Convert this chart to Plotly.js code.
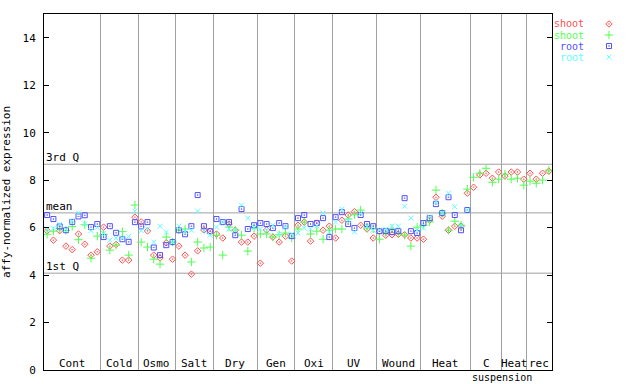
<!DOCTYPE html>
<html>
<head>
<meta charset="utf-8">
<script src="https://cdn.plot.ly/plotly-3.0.1.min.js"></script>
<style>html,body{margin:0;padding:0;background:#fff;}#chart{width:640px;height:384px;}</style>
</head>
<body>
<div id="chart"></div>
<script>
// ---- data ----
const categories = ['Cont','Cold','Osmo','Salt','Dry','Gen','Oxi','UV','Wound','Heat','C','Heat','rec'];
const groupSizes = [9,6,6,6,7,6,6,7,7,8,5,4,4];
const subLabel = 'suspension';
const subLabelAfterGroup = 10; // label placed at boundary after group index 10 ("C")

const shootA = [5.87,5.47,5.87,5.22,5.07,5.73,5.30,4.84,4.98,6.02,
                5.22,5.29,4.63,4.63,6.44,6.24,5.86,4.84,4.72,5.36,
                4.67,5.22,4.84,4.04,5.02,5.90,5.85,5.73,5.56,6.15,
                5.89,5.39,5.39,5.64,4.50,5.90,5.60,5.39,5.64,4.59,
                6.10,6.23,5.43,6.19,5.89,6.06,5.56,6.31,6.53,6.67,
                6.10,5.94,5.56,5.85,5.68,5.70,5.72,5.70,5.56,5.56,
                5.51,6.32,7.28,6.48,5.89,6.06,6.06,7.45,7.70,8.22,
                8.29,8.08,8.34,8.17,8.34,8.34,8.04,8.29,8.04,8.29,8.38];
const shootB = [5.72,5.85,5.95,5.88,6.05,5.49,6.12,4.71,5.64,5.72,
                5.05,5.26,5.83,4.84,6.95,5.39,5.18,4.67,4.46,5.60,
                5.39,5.90,5.94,4.55,5.39,5.14,5.18,5.68,4.84,6.02,
                5.90,5.68,5.01,5.98,5.73,5.73,5.60,5.70,5.77,5.56,
                5.94,6.23,5.73,5.85,5.51,5.89,5.94,5.94,6.36,6.54,
                6.74,5.98,5.95,5.51,5.80,5.95,5.75,5.68,5.22,6.02,
                6.10,6.24,7.58,6.60,5.89,6.27,6.10,7.62,8.12,8.29,
                8.50,7.91,8.04,8.25,8.04,8.08,7.79,7.96,7.87,8.00,8.42];
const rootA = [6.53,6.36,6.05,5.89,6.24,6.47,6.52,6.02,6.15,5.60,
               6.06,5.78,5.51,5.40,6.23,6.05,6.23,5.16,4.84,5.26,
               5.39,5.89,5.72,6.06,7.37,6.06,5.85,6.36,6.23,6.23,
               5.68,6.78,5.94,6.10,6.19,6.15,5.98,6.19,6.06,5.64,
               6.40,6.53,6.15,6.19,6.40,5.60,6.44,6.65,6.15,5.98,
               6.53,6.15,6.06,5.85,5.85,5.81,5.85,7.24,5.85,5.77,
               6.19,6.40,6.99,6.61,7.28,6.53,5.89,6.74];
const rootB = [5.94,5.98,6.14,5.92,6.28,6.62,6.15,5.87,6.01,5.75,
               5.47,5.56,5.56,5.63,6.69,5.87,5.94,5.39,6.06,5.81,
               5.39,6.06,5.85,5.89,6.70,5.85,5.68,6.02,6.23,5.94,
               5.89,6.95,6.40,6.00,5.94,5.89,6.10,5.73,6.03,5.73,
               5.77,5.98,5.94,6.07,6.61,5.81,6.23,6.78,6.30,5.82,
               6.60,6.05,5.89,5.90,5.94,6.06,6.06,6.90,6.40,5.90,
               5.98,6.45,7.07,6.61,7.45,6.88,6.10,6.74];

const q3 = 8.67, meanVal = 6.62, q1 = 4.08;
const yTicks = [0,2,4,6,8,10,12,14];

const seriesNames = ['shoot','shoot','root','root'];
const seriesColors = ['#ff5050','#50ff50','#5050ff','#60ffff'];
const seriesSymbols = ['diamond-open-dot','cross-thin-open','square-open-dot','x-thin-open'];
const seriesSizes = [5,6,5,5];
const seriesData = [shootA, shootB, rootA, rootB];

// ---- build ----
const FONT = 'DejaVu Sans Mono, Liberation Mono, monospace';
const nTotal = groupSizes.reduce((a,b)=>a+b,0);
const boundaries = [];
const centers = [];
let acc = 0;
groupSizes.forEach((n,i)=>{
  centers.push(acc + (n+1)/2);
  acc += n;
  if (i < groupSizes.length-1) boundaries.push(acc + 0.5);
});

const traces = seriesData.map((vals,k)=>({
  type:'scatter', mode:'markers',
  x: vals.map((_,i)=>i+1), y: vals,
  marker:{symbol:seriesSymbols[k], size:seriesSizes[k], color:seriesColors[k], line:{color:seriesColors[k], width:1}},
  name: seriesNames[k], showlegend:false, hoverinfo:'skip'
}));

// legend key markers (on a helper axis in the right margin)
const legendRows = [0.972,0.941,0.910,0.879];
seriesNames.forEach((nm,k)=>{
  traces.push({type:'scatter', mode:'markers', xaxis:'x2', yaxis:'y2',
    x:[0.6], y:[legendRows[k]],
    marker:{symbol:seriesSymbols[k], size:seriesSizes[k], color:seriesColors[k], line:{color:seriesColors[k], width:1}},
    showlegend:false, hoverinfo:'skip'});
});

const annotations = [];
categories.forEach((c,i)=>{
  annotations.push({x:centers[i], xref:'x', y:0, yref:'y domain', yanchor:'bottom', yshift:-2,
    text:c, showarrow:false, font:{family:FONT, size:11, color:'#000'}});
});
annotations.push({x:boundaries[subLabelAfterGroup], xref:'x', y:0, yref:'y domain', yanchor:'top', yshift:0,
  text:subLabel, showarrow:false, font:{family:FONT, size:10, color:'#000'}});
[[q3,'3rd Q'],[meanVal,'mean'],[q1,'1st Q']].forEach(([v,t])=>{
  annotations.push({x:0, xref:'x domain', xanchor:'left', y:v, yref:'y', yanchor:'bottom', yshift:-2,
    text:t, showarrow:false, font:{family:FONT, size:11, color:'#000'}});
});
seriesNames.forEach((nm,k)=>{
  annotations.push({x:0.9094, xref:'paper', xanchor:'right', y:legendRows[k], yref:'paper', yanchor:'middle',
    text:nm, showarrow:false, font:{family:FONT, size:10, color:seriesColors[k]}});
});

const shapes = [q3, meanVal, q1].map(v=>({type:'line', xref:'x domain', x0:0, x1:1, yref:'y', y0:v, y1:v,
  line:{color:'#a0a0a0', width:1}, layer:'below'}));

const layout = {
  width:640, height:384,
  margin:{l:44, r:0, t:14, b:14},
  paper_bgcolor:'#fff', plot_bgcolor:'#fff',
  showlegend:false,
  xaxis:{domain:[0,0.8523], range:[0.5, nTotal+0.5], tickvals:boundaries, showticklabels:false, ticks:'',
    showgrid:true, gridcolor:'#a0a0a0', gridwidth:1, zeroline:false,
    showline:true, linecolor:'#000', linewidth:1, mirror:true},
  yaxis:{range:[0,15], tickvals:yTicks, ticktext:yTicks.map(String), ticks:'inside', ticklen:5, tickcolor:'#000',
    showgrid:false, zeroline:false, showline:true, linecolor:'#000', linewidth:1, mirror:'allticks',
    tickfont:{family:FONT, size:11, color:'#000'}, ticklabelstandoff:5,
    title:{text:'affy-normalized expression', font:{family:FONT, size:11, color:'#000'}, standoff:12}},
  xaxis2:{domain:[0.87,1], range:[0,1], visible:false, anchor:'y2'},
  yaxis2:{domain:[0,1], range:[0,1], visible:false, anchor:'x2'},
  annotations:annotations,
  shapes:shapes
};

Plotly.newPlot('chart', traces, layout, {staticPlot:true, displayModeBar:false});
</script>
</body>
</html>
